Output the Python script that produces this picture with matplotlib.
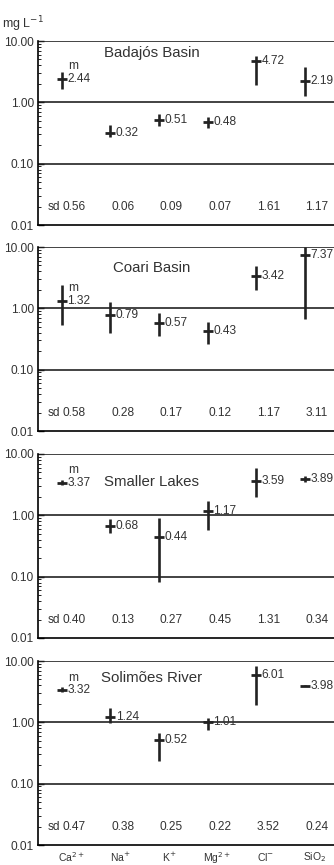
import numpy as np
import matplotlib
matplotlib.use("Agg")
import matplotlib.pyplot as plt
from matplotlib.ticker import FixedLocator, FuncFormatter, LogLocator

plt.rcParams['font.family'] = ['Liberation Sans', 'DejaVu Sans']

ions = [r'Ca$^{2+}$', r'Na$^{+}$', r'K$^{+}$', r'Mg$^{2+}$', r'Cl$^{-}$', r'SiO$_2$']
basins = ['Badajós Basin', 'Coari Basin', 'Smaller Lakes', 'Solimões River']

# mean values (m)
means = [
    [2.44, 0.32, 0.51, 0.48, 4.72, 2.19],
    [1.32, 0.79, 0.57, 0.43, 3.42, 7.37],
    [3.37, 0.68, 0.44, 1.17, 3.59, 3.89],
    [3.32, 1.24, 0.52, 1.01, 6.01, 3.98],
]
# standard deviations (sd)
sds = [
    ['0.56', '0.06', '0.09', '0.07', '1.61', '1.17'],
    ['0.58', '0.28', '0.17', '0.12', '1.17', '3.11'],
    ['0.40', '0.13', '0.27', '0.45', '1.31', '0.34'],
    ['0.47', '0.38', '0.25', '0.22', '3.52', '0.24'],
]
# bar ends
lows = [
    [1.68, 0.27, 0.41, 0.38, 1.95, 1.25],
    [0.53, 0.39, 0.35, 0.26, 1.97, 0.67],
    [3.13, 0.51, 0.081, 0.57, 1.98, 3.5],
    [3.13, 0.97, 0.23, 0.75, 1.95, 3.85],
]
highs = [
    [3.16, 0.43, 0.64, 0.57, 5.7, 3.8],
    [2.41, 1.26, 0.85, 0.60, 4.94, 10.0],
    [3.78, 0.87, 0.89, 1.70, 5.85, 4.39],
    [3.73, 1.70, 0.68, 1.17, 8.3, 4.1],
]

W, H = 334, 865
fig = plt.figure(figsize=(W / 100, H / 100), dpi=100)

tops = [41, 247, 454, 661]
ph = 184
x0 = 38
ink = '#222222'
txt = '#333333'
fs = 8.6

for k in range(4):
    ax = fig.add_axes([x0 / W, (H - tops[k] - ph) / H, (W - x0) / W, ph / H])
    ax.set_yscale('log')
    ax.set_ylim(0.01, 10)
    ax.set_xlim(-0.49, 5.6)
    for v in [10, 1, 0.1]:
        ax.axhline(v, color=ink, lw=1.2)
    ax.spines['top'].set_visible(False)
    ax.spines['right'].set_visible(False)
    ax.spines['left'].set_linewidth(1.2)
    ax.spines['bottom'].set_linewidth(1.2)
    ax.yaxis.set_major_locator(FixedLocator([0.01, 0.1, 1, 10]))
    ax.yaxis.set_major_formatter(FuncFormatter(lambda v, p: '%.2f' % v))
    ax.yaxis.set_minor_locator(LogLocator(subs=np.arange(2, 10)))
    ax.tick_params(axis='y', which='major', direction='in', length=4, width=1,
                   labelsize=fs, labelcolor=txt, pad=3)
    ax.tick_params(axis='y', which='minor', direction='in', length=2, width=0.6)
    ax.set_xticks([])

    x = np.arange(6)
    m = np.array(means[k])
    lo = np.array(lows[k])
    hi = np.array(highs[k])
    ax.errorbar(x, m, yerr=[m - lo, hi - m], fmt='_', ms=7, mew=2.0,
                elinewidth=1.9, capsize=0, color=ink, clip_on=False)

    for i in range(6):
        ax.annotate('%.2f' % means[k][i], (x[i], m[i]), xytext=(4, 0),
                    textcoords='offset points', va='center', ha='left',
                    fontsize=fs, color=txt, annotation_clip=False)
        ax.text(x[i] + 0.25, 0.1, sds[k][i], transform=ax.get_xaxis_transform(),
                ha='center', va='center', fontsize=fs, color=txt)
    ax.annotate('sd', (0.25, 0.1), xycoords=('data', 'axes fraction'),
                xytext=(-10, 0), textcoords='offset points', ha='right',
                va='center', fontsize=fs, color=txt)
    ax.annotate('m', (x[0], m[0]), xytext=(8, 9), textcoords='offset points',
                ha='center', va='center', fontsize=fs, color=txt)

    title_y = [0.935, 0.885, 0.85, 0.905][k]
    ax.text((152 - x0) / (W - x0), title_y, basins[k], transform=ax.transAxes,
            ha='center', va='center', fontsize=10.8, color=txt)

    if k == 3:
        for i in range(6):
            ax.annotate(ions[i], (x[i] + 0.2, 0), xycoords=('data', 'axes fraction'),
                        xytext=(0, -4), textcoords='offset points', ha='center',
                        va='top', fontsize=7.5, color=txt, annotation_clip=False)

fig.text(2 / W, 1 - 24 / H, r'mg L$^{-1}$', ha='left', va='center',
         fontsize=9, color=txt)

fig.savefig('out.png', dpi=100)
